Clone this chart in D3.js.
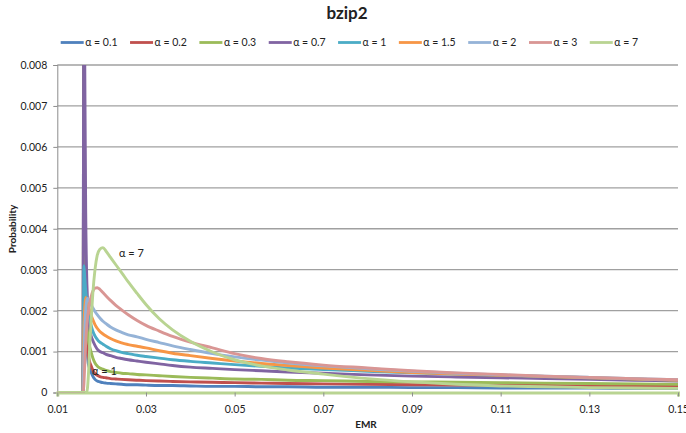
<!DOCTYPE html>
<html>
<head>
<meta charset="utf-8">
<script src="https://cdn.jsdelivr.net/npm/d3@7"></script>
<style>
  html, body { margin: 0; padding: 0; background: #fff; }
  svg { display: block; font-family: Lato, "Open Sans", sans-serif; }
</style>
</head>
<body>
<svg id="chart" width="686" height="433"></svg>
<script>
// EMR sample points shared by every curve
const emr = [0.010, 0.0158, 0.0160, 0.0162, 0.0164, 0.0166, 0.0168, 0.0170, 0.0173, 0.0176,
             0.0180, 0.0185, 0.0190, 0.0196, 0.0203, 0.0210, 0.0220, 0.0232, 0.0245, 0.0260,
             0.0280, 0.0300, 0.0330, 0.0360, 0.0400, 0.0450, 0.0500, 0.0560, 0.0620, 0.0700,
             0.0800, 0.0900, 0.1000, 0.1100, 0.1200, 0.1300, 0.1400, 0.1500];

const seriesNames = ["α = 0.1", "α = 0.2", "α = 0.3", "α = 0.7", "α = 1", "α = 1.5", "α = 2", "α = 3", "α = 7"];
const seriesColors = ["#4f81bd", "#c0504d", "#9bbb59", "#8064a2", "#4bacc6", "#f79646", "#95b3d7", "#d99694", "#b9d492"];

const alpha01 = [0, 0, 0.012, 0.0035, 0.0018, 0.0012, 0.0009, 0.0007, 0.00058, 0.0005,
                 0.0004, 0.00032, 0.00028, 0.00026, 0.00024, 0.00023, 0.00022, 0.00021, 0.0002, 0.00019,
                 0.00019, 0.00018, 0.00017, 0.00017, 0.00016, 0.00015, 0.00015, 0.00014, 0.00014, 0.00013,
                 0.00013, 0.00012, 0.00012, 0.00011, 0.00011, 0.00011, 0.0001, 0.0001];
const alpha02 = [0, 0, 0.01, 0.004, 0.0022, 0.0015, 0.0011, 0.0009, 0.00075, 0.00066,
                 0.00055, 0.00046, 0.00042, 0.00039, 0.00037, 0.00036, 0.00034, 0.00033, 0.00032, 0.00031,
                 0.0003, 0.00029, 0.00028, 0.00027, 0.00026, 0.00025, 0.00024, 0.00023, 0.00022, 0.00021,
                 0.0002, 0.00019, 0.00018, 0.00018, 0.00017, 0.00016, 0.00016, 0.00015];
const alpha03 = [0, 0, 0.009, 0.005, 0.003, 0.0021, 0.0016, 0.0013, 0.00112, 0.001,
                 0.00085, 0.00072, 0.00065, 0.0006, 0.00057, 0.00054, 0.00051, 0.00049, 0.00047, 0.00046,
                 0.00044, 0.00043, 0.00041, 0.00039, 0.00037, 0.00035, 0.00033, 0.00032, 0.0003, 0.00029,
                 0.00027, 0.00026, 0.00025, 0.00024, 0.00023, 0.00022, 0.00021, 0.0002];
const alpha07 = [0, 0, 0.012, 0.008, 0.0045, 0.003, 0.0023, 0.0019, 0.0016, 0.0014,
                 0.00127, 0.00115, 0.00106, 0.001, 0.00097, 0.00093, 0.0009, 0.00086, 0.00083, 0.0008,
                 0.00077, 0.00074, 0.0007, 0.00066, 0.00062, 0.00059, 0.00056, 0.00053, 0.0005, 0.00047,
                 0.00043, 0.0004, 0.00038, 0.00036, 0.00034, 0.00032, 0.0003, 0.00028];
const alpha1 = [0, 0, 0.0031, 0.0028, 0.0025, 0.0023, 0.0021, 0.00195, 0.0018, 0.00165,
                0.0015, 0.00138, 0.0013, 0.00123, 0.00118, 0.00113, 0.00107, 0.00102, 0.00098, 0.00095,
                0.00091, 0.00088, 0.00084, 0.0008, 0.00076, 0.00072, 0.00068, 0.00064, 0.0006, 0.00056,
                0.00052, 0.00048, 0.00045, 0.00042, 0.00039, 0.00036, 0.00033, 0.0003];
const alpha15 = [0, 0, 0.0016, 0.0021, 0.00232, 0.00228, 0.0022, 0.00212, 0.002, 0.0019,
                 0.00178, 0.00166, 0.00157, 0.00149, 0.00143, 0.00138, 0.00132, 0.00126, 0.00121, 0.00117,
                 0.00113, 0.00109, 0.00102, 0.00096, 0.0009, 0.00083, 0.00077, 0.00071, 0.00066, 0.0006,
                 0.00054, 0.00049, 0.00045, 0.00042, 0.00039, 0.00036, 0.00033, 0.0003];
const alpha2 = [0, 0, 0.0009, 0.0016, 0.002, 0.00222, 0.0023, 0.00228, 0.00222, 0.00215,
                0.00207, 0.00198, 0.0019, 0.00182, 0.00174, 0.00168, 0.0016, 0.00153, 0.00147, 0.00141,
                0.00136, 0.0013, 0.00122, 0.00114, 0.00105, 0.00095, 0.00087, 0.00079, 0.00072, 0.00065,
                0.00058, 0.00052, 0.00047, 0.00043, 0.0004, 0.00037, 0.00034, 0.00031];
const alpha3 = [0, 0, 0.0002, 0.0007, 0.0012, 0.00155, 0.0018, 0.00198, 0.00218, 0.00233,
                0.00247, 0.00255, 0.00256, 0.00252, 0.00244, 0.00236, 0.00225, 0.00213, 0.00202, 0.0019,
                0.00176, 0.00164, 0.0015, 0.00137, 0.00123, 0.00109, 0.00095, 0.00083, 0.00075, 0.00067,
                0.0006, 0.00053, 0.00048, 0.00044, 0.0004, 0.00037, 0.00034, 0.00031];
const alpha7 = [0, 0, 0, 0, 0, 0, 0.0001, 0.0004, 0.0011, 0.0017,
                0.0024, 0.003, 0.00335, 0.0035, 0.00354, 0.00345, 0.0033, 0.00312, 0.00293, 0.0027,
                0.00242, 0.00215, 0.0018, 0.00153, 0.00125, 0.00099, 0.0008, 0.00065, 0.00055, 0.00045,
                0.00034, 0.00026, 0.0002, 0.00016, 0.00014, 0.00012, 0.00011, 0.0001];

const seriesValues = [alpha01, alpha02, alpha03, alpha07, alpha1, alpha15, alpha2, alpha3, alpha7];

const xTicks = [0.01, 0.03, 0.05, 0.07, 0.09, 0.11, 0.13, 0.15];
const yTicks = [0, 0.001, 0.002, 0.003, 0.004, 0.005, 0.006, 0.007, 0.008];

const svg = d3.select("#chart");
const W = 686, H = 433;
const margin = { left: 57.3, right: 8, top: 65, bottom: 40.5 };
const plotW = W - margin.left - margin.right;
const plotH = H - margin.top - margin.bottom;

const x = d3.scaleLinear().domain([0.01, 0.15]).range([margin.left, margin.left + plotW]);
const y = d3.scaleLinear().domain([0, 0.008]).range([margin.top + plotH, margin.top]);

// Title
svg.append("text")
  .attr("x", 347).attr("y", 19)
  .attr("text-anchor", "middle")
  .attr("font-size", 17).attr("font-weight", "bold").attr("fill", "#222")
  .text("bzip2");

// Horizontal gridlines
svg.append("g").selectAll("line")
  .data(yTicks.filter(d => d > 0))
  .join("line")
  .attr("x1", x(0.01)).attr("x2", x(0.15))
  .attr("y1", d => y(d)).attr("y2", d => y(d))
  .attr("stroke", "#a0a0a0").attr("stroke-width", 1.3);

// Y axis
const yAxis = svg.append("g")
  .attr("transform", `translate(${x(0.01)},0)`)
  .call(d3.axisLeft(y).tickValues(yTicks).tickFormat(d => d === 0 ? "0" : d3.format(".3f")(d)).tickSize(4).tickPadding(6));
yAxis.select(".domain").attr("stroke", "#8c8c8c").attr("stroke-width", 1);
yAxis.selectAll(".tick line").attr("stroke", "#8c8c8c");
yAxis.selectAll("text").attr("font-size", 10.5).attr("fill", "#222").attr("font-family", "Lato, sans-serif");

// X axis
const xAxis = svg.append("g")
  .attr("transform", `translate(0,${y(0)})`)
  .call(d3.axisBottom(x).tickValues(xTicks).tickFormat(d3.format(".2f")).tickSize(4).tickPadding(9));
xAxis.select(".domain").attr("stroke", "#b9d492").attr("stroke-width", 3);
xAxis.selectAll(".tick line").attr("stroke", "#8c8c8c");
xAxis.selectAll("text").attr("font-size", 10.5).attr("fill", "#222").attr("font-family", "Lato, sans-serif");

// Axis titles
svg.append("text")
  .attr("x", 366).attr("y", 428)
  .attr("text-anchor", "middle")
  .attr("font-size", 10).attr("font-weight", "bold").attr("fill", "#222")
  .text("EMR");
svg.append("text")
  .attr("transform", "translate(16,229) rotate(-90)")
  .attr("text-anchor", "middle")
  .attr("font-size", 10).attr("font-weight", "bold").attr("fill", "#222")
  .text("Probability");

// Curves, clipped to the plotting area
svg.append("clipPath").attr("id", "plot-clip")
  .append("rect")
  .attr("x", x(0.01)).attr("y", y(0.008))
  .attr("width", x(0.15) - x(0.01)).attr("height", y(0) - y(0.008));

const line = d3.line()
  .x((d, i) => x(emr[i]))
  .y(d => y(d))
  .curve(d3.curveMonotoneX);

svg.append("g").attr("clip-path", "url(#plot-clip)")
  .selectAll("path")
  .data(seriesValues)
  .join("path")
  .attr("d", d => line(d))
  .attr("fill", "none")
  .attr("stroke", (d, i) => seriesColors[i])
  .attr("stroke-width", 2.9)
  .attr("stroke-linejoin", "round");

// Curve labels
svg.append("text").attr("x", 119).attr("y", 257)
  .attr("font-size", 11).attr("fill", "#222").text("α = 7");
svg.append("text").attr("x", 92).attr("y", 375)
  .attr("font-size", 11).attr("fill", "#222").text("α = 1");

// Legend
const legend = svg.append("g");
let lx = 60.7;
const ly = 42.5;
seriesNames.forEach((name, i) => {
  legend.append("line")
    .attr("x1", lx).attr("x2", lx + 23)
    .attr("y1", ly).attr("y2", ly)
    .attr("stroke", seriesColors[i]).attr("stroke-width", 2.8);
  const t = legend.append("text")
    .attr("x", lx + 24.5).attr("y", ly + 3.8)
    .attr("font-size", 10.5).attr("fill", "#222")
    .text(name);
  lx += 24.5 + t.node().getComputedTextLength() + 12.5;
});
</script>
</body>
</html>
